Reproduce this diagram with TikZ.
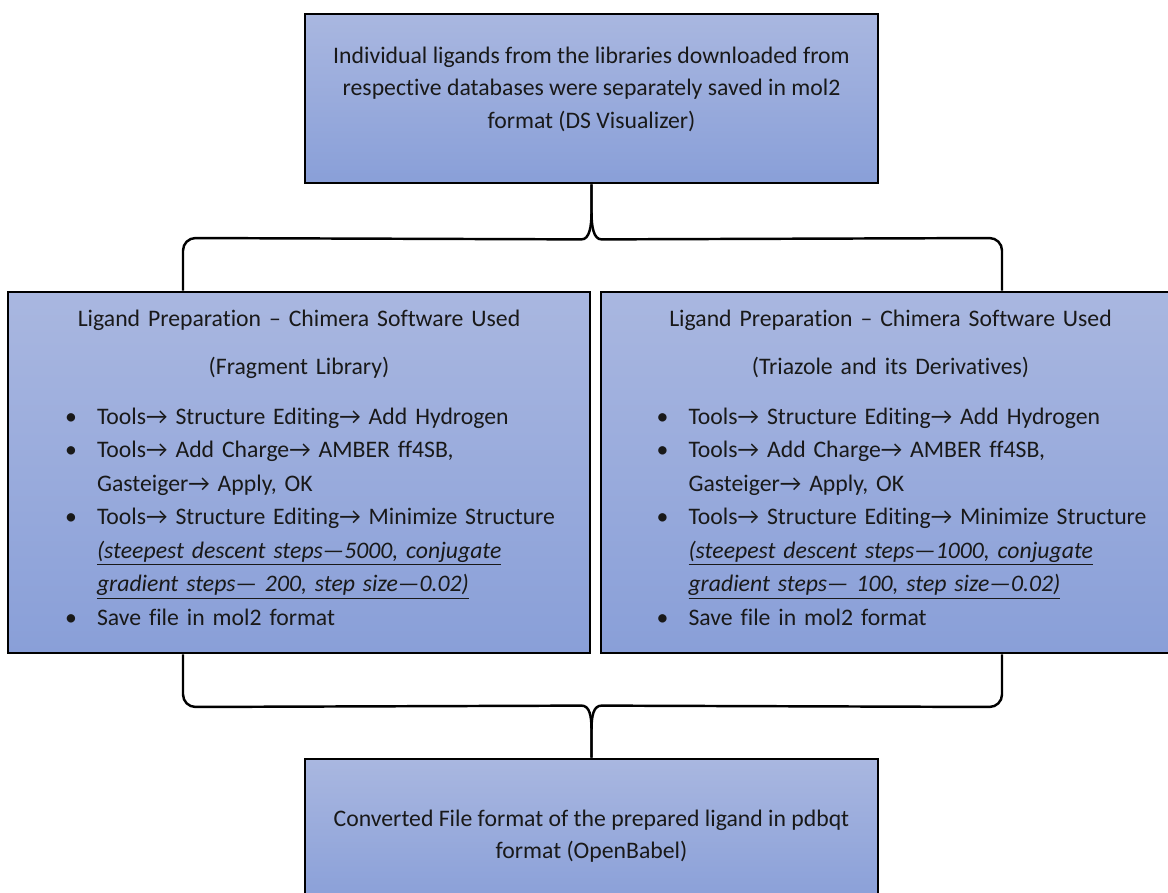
\documentclass[tikz,border=0pt]{standalone}
\usepackage{fontspec}
\setmainfont[Ligatures=NoCommon]{Carlito}
\usetikzlibrary{calc}
\definecolor{boxTop}{RGB}{169,183,224}
\definecolor{boxBot}{RGB}{137,159,216}
\newcommand{\rarr}{→}
\newcommand{\itm}[1]{\hspace*{0.92cm}\makebox[0.64cm][l]{\textbullet}#1}
\newcommand{\cnt}[1]{\hspace*{1.56cm}#1}
\newcommand{\ctr}[1]{\makebox[11.2cm][c]{#1}}
\newcommand{\ulit}[1]{\underline{\textit{#1}}}
\tikzset{
  stepbox/.style={draw=black, line width=1.6pt, top color=boxTop, bottom color=boxBot, inner sep=0pt},
  boxtext/.style={font=\fontsize{13.5}{18.5}\selectfont, text=black!90, inner sep=0pt},
  listtext/.style={boxtext, font=\fontsize{13.5}{19.1}\selectfont, text width=11.2cm, align=left},
  brace/.style={draw=black, line width=1.4pt}
}

\begin{document}
\begin{tikzpicture}[x=0.02cm, y=-0.02cm]
	%%%%% START %%%%%
	\useasboundingbox (0,0) rectangle (1168,892);

	\node[stepbox, minimum width=11.46cm, minimum height=3.38cm] (src) at (591.5,98.5) {};
	\node[boxtext, align=center] (srcText) at (591.5,89) {Individual ligands from the libraries downloaded from\\respective databases were separately saved in mol2\\format (DS Visualizer)};

	\node[stepbox, minimum width=11.64cm, minimum height=7.22cm] (frag) at (299,472.5) {};
	\node[listtext] (fragText) at (299,468) {%
		\ctr{Ligand Preparation – Chimera Software Used}\\[0.29cm]
		\ctr{(Fragment Library)}\\[0.31cm]
		\itm{Tools\rarr{} Structure Editing\rarr{} Add Hydrogen}\\
		\itm{Tools\rarr{} Add Charge\rarr{} AMBER ff4SB,}\\
		\cnt{Gasteiger\rarr{} Apply, OK}\\
		\itm{Tools\rarr{} Structure Editing\rarr{} Minimize Structure}\\
		\cnt{\ulit{(steepest descent steps—5000, conjugate}}\\
		\cnt{\ulit{gradient steps— 200, step size—0.02)}}\\
		\itm{Save file in mol2 format}};

	\node[stepbox, minimum width=11.58cm, minimum height=7.22cm] (triaz) at (890.5,472.5) {};
	\node[listtext] (triazText) at (890.5,468) {%
		\ctr{Ligand Preparation – Chimera Software Used}\\[0.29cm]
		\ctr{(Triazole and its Derivatives)}\\[0.31cm]
		\itm{Tools\rarr{} Structure Editing\rarr{} Add Hydrogen}\\
		\itm{Tools\rarr{} Add Charge\rarr{} AMBER ff4SB,}\\
		\cnt{Gasteiger\rarr{} Apply, OK}\\
		\itm{Tools\rarr{} Structure Editing\rarr{} Minimize Structure}\\
		\cnt{\ulit{(steepest descent steps—1000, conjugate}}\\
		\cnt{\ulit{gradient steps— 100, step size—0.02)}}\\
		\itm{Save file in mol2 format}};

	\node[stepbox, minimum width=11.46cm, minimum height=2.92cm] (conv) at (591.5,832) {};
	\node[boxtext, align=center] (convText) at (591.5,836) {Converted File format of the prepared ligand in pdbqt\\format (OpenBabel)};

	% legs and bars of the braces
	\coordinate (lleg) at (183,0);
	\coordinate (rleg) at (1002,0);
	\coordinate (upbar) at (0,238);
	\coordinate (lowbar) at (0,707);

	\draw[brace] (src.south) -- ++(0,28) .. controls +(0,14) and +(8,0) .. ++(-10,27) [rounded corners=0.25cm] -- (lleg |- upbar) -- (frag.north -| lleg);
	\draw[brace] (src.south) -- ++(0,28) .. controls +(0,14) and +(-8,0) .. ++(10,27) [rounded corners=0.25cm] -- (rleg |- upbar) -- (triaz.north -| rleg);

	\draw[brace] (conv.north) -- ++(0,-28) .. controls +(0,-14) and +(8,0) .. ++(-10,-24) [rounded corners=0.25cm] -- (lleg |- lowbar) -- (frag.south -| lleg);
	\draw[brace] (conv.north) -- ++(0,-28) .. controls +(0,-14) and +(-8,0) .. ++(10,-24) [rounded corners=0.25cm] -- (rleg |- lowbar) -- (triaz.south -| rleg);

	%%%%% END %%%%%
\end{tikzpicture}
\end{document}
